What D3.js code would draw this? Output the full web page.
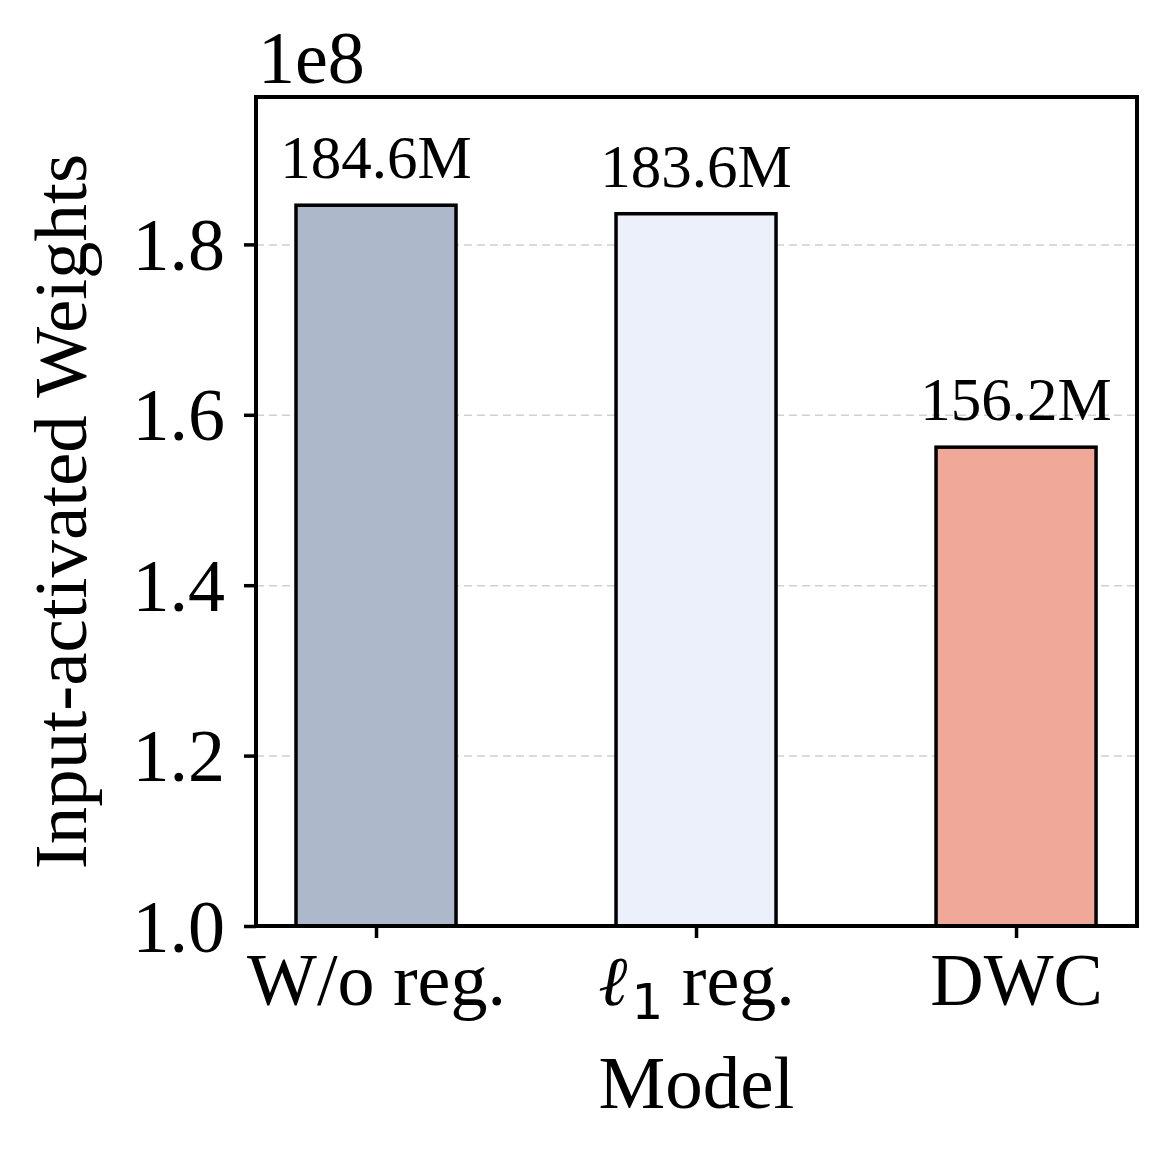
<!DOCTYPE html>
<html>
<head>
<meta charset="utf-8">
<style>
    body { margin: 0; background: #fff; }
    svg { font-family: "Liberation Serif", "Times New Roman", serif; }
    .grid line { stroke: #d0d0d0; stroke-width: 1.5; stroke-dasharray: 8 5; }
    .grid .domain { display: none; }
    .axis .domain { display: none; }
    .axis .tick line { stroke: #000; stroke-width: 3.5; }
    .axis .tick text { font-size: 74px; fill: #000; font-family: "Liberation Serif", "Times New Roman", serif; }
</style>
</head>
<body>
<svg width="1166" height="1155"></svg>
<script src="https://d3js.org/d3.v7.min.js"></script>
<script>
// data (values in units of 1e8)
let models = ["W/o reg.", "l1 reg.", "DWC"];
let weights = [1.846, 1.836, 1.562];
let valueLabels = ["184.6M", "183.6M", "156.2M"];
let barColors = ["#adb9ca", "#ecf0fa", "#f0a998"];
let yTicks = [1.0, 1.2, 1.4, 1.6, 1.8];

let svg = d3.select("svg");
let margin = { top: 97, right: 29, bottom: 229, left: 256 };
let width = 1166, height = 1155;

let x = d3.scaleLinear()
    .domain([-0.375, 2.378])
    .range([margin.left, width - margin.right]);

let y = d3.scaleLinear()
    .domain([1.0, 1.973])
    .range([height - margin.bottom, margin.top]);

let barW = x(0.5) - x(0);

// grid
svg.append("g")
    .attr("class", "grid")
    .attr("transform", `translate(${margin.left},0)`)
    .call(d3.axisLeft(y).tickValues(yTicks.slice(1)).tickSize(-(width - margin.left - margin.right)).tickFormat(""));

// bars
svg.append("g")
    .selectAll("rect")
    .data(weights)
    .join("rect")
    .attr("x", (d, i) => x(i) - barW / 2)
    .attr("width", barW)
    .attr("y", d => y(d))
    .attr("height", d => y(1.0) - y(d))
    .style("fill", (d, i) => barColors[i])
    .style("stroke", "#000")
    .style("stroke-width", 3.5);

// value labels
svg.append("g")
    .selectAll("text")
    .data(weights)
    .join("text")
    .attr("x", (d, i) => x(i))
    .attr("y", d => y(d) - 27)
    .attr("text-anchor", "middle")
    .style("font-size", "61px")
    .text((d, i) => valueLabels[i]);

// y axis
svg.append("g")
    .attr("class", "axis")
    .attr("transform", `translate(${margin.left},0)`)
    .call(d3.axisLeft(y).tickValues(yTicks).tickFormat(d3.format(".1f")).tickSize(12).tickPadding(19))
    .selectAll(".tick text").attr("dy", "0.34em");

// x axis
let xAxis = svg.append("g")
    .attr("class", "axis")
    .attr("transform", `translate(0,${height - margin.bottom})`)
    .call(d3.axisBottom(x).tickValues([0, 1, 2]).tickSize(12).tickPadding(14).tickFormat((d, i) => models[i]));

xAxis.selectAll(".tick text").attr("dy", "0.71em");

// l1 label with script ell and subscript
xAxis.selectAll(".tick text").filter((d, i) => i == 1)
    .text(null)
    .call(t => {
        t.append("tspan").style("font-family", "DejaVu Serif").style("font-style", "italic").style("font-size", "70px").text("\u2113");
        t.append("tspan").style("font-family", "DejaVu Sans").style("font-size", "50px").attr("dx", "4").attr("dy", "14").text("1");
        t.append("tspan").attr("dy", "-14").text(" reg.");
    });

// frame
svg.append("rect")
    .attr("x", margin.left)
    .attr("y", margin.top)
    .attr("width", width - margin.left - margin.right)
    .attr("height", height - margin.top - margin.bottom)
    .style("fill", "none")
    .style("stroke", "#000")
    .style("stroke-width", 4);

// offset text
svg.append("text")
    .attr("x", margin.left + 2)
    .attr("y", 83)
    .style("font-size", "74px")
    .text("1e8");

// axis titles
svg.append("text")
    .attr("x", (margin.left + width - margin.right) / 2)
    .attr("y", 1108)
    .attr("text-anchor", "middle")
    .style("font-size", "75px")
    .text("Model");

svg.append("text")
    .attr("transform", `translate(86,${(margin.top + height - margin.bottom) / 2}) rotate(-90)`)
    .attr("text-anchor", "middle")
    .style("font-size", "75px")
    .text("Input-activated Weights");
</script>
</body>
</html>
